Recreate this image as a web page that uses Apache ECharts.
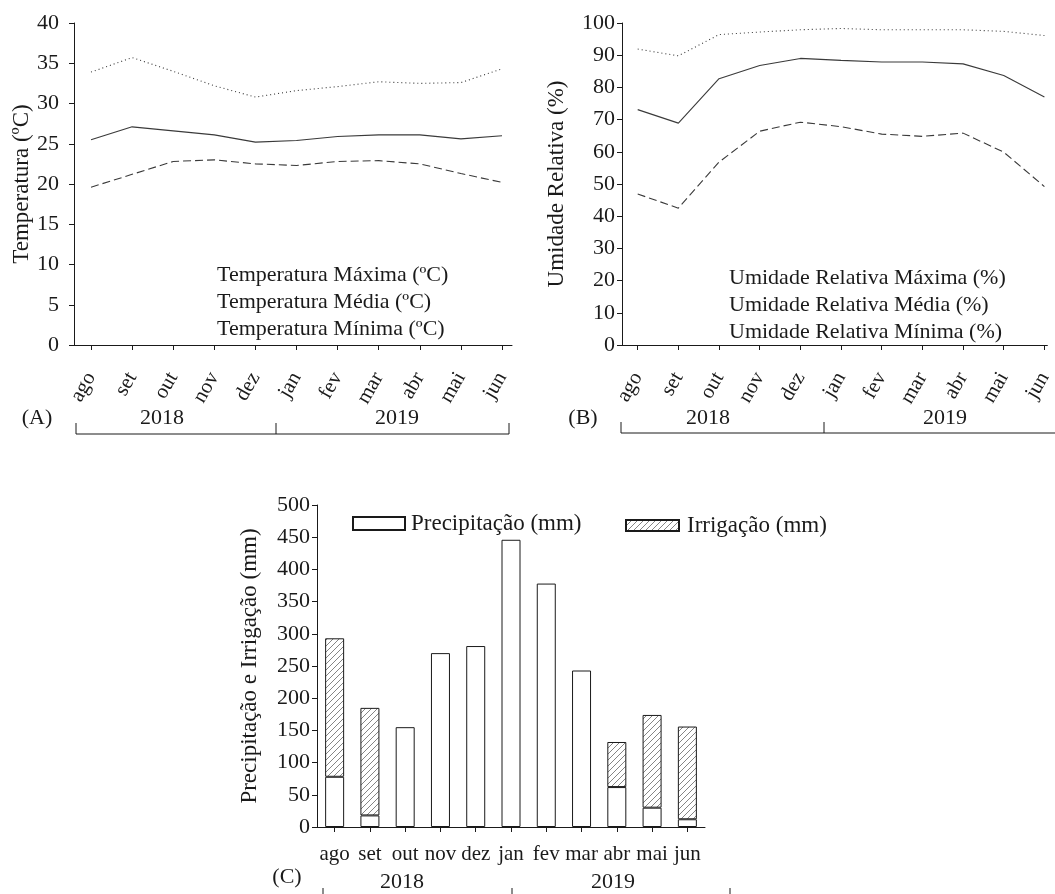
<!DOCTYPE html>
<html>
<head>
<meta charset="utf-8">
<script src="https://cdn.jsdelivr.net/npm/echarts@6/dist/echarts.min.js"></script>
<style>
  html, body { margin: 0; padding: 0; background: #fff; }
  #chart { width: 1055px; height: 894px; }
</style>
</head>
<body>
<div id="chart"></div>
<script>
// meses (ago/2018 a jun/2019)
const months = ['ago', 'set', 'out', 'nov', 'dez', 'jan', 'fev', 'mar', 'abr', 'mai', 'jun']

// (A) temperatura, ºC
const tempMax = [33.9, 35.7, 34.0, 32.2, 30.8, 31.6, 32.1, 32.7, 32.5, 32.6, 34.3]
const tempMed = [25.5, 27.1, 26.6, 26.1, 25.2, 25.4, 25.9, 26.1, 26.1, 25.6, 26.0]
const tempMin = [19.6, 21.2, 22.8, 23.0, 22.5, 22.3, 22.8, 22.9, 22.5, 21.3, 20.2]

// (B) umidade relativa, %
const urMax = [91.9, 89.8, 96.4, 97.2, 97.9, 98.3, 97.9, 97.9, 97.9, 97.4, 96.1]
const urMed = [73.1, 68.9, 82.7, 86.8, 89.0, 88.4, 87.9, 87.9, 87.3, 83.7, 77.0]
const urMin = [46.9, 42.5, 56.8, 66.4, 69.2, 67.8, 65.5, 64.8, 65.8, 59.9, 49.2]

// (C) precipitação e irrigação, mm
const precip = [78, 18, 155, 270, 281, 446, 378, 243, 62, 30, 12]
const irrig = [215, 167, '-', '-', '-', '-', '-', '-', 70, 144, 144]

const years = ['2018', '2019']

const FONT = '"Liberation Serif", "DejaVu Serif", serif'
const INK = '#1a1a1a'
const LINE = '#3a3a3a'

const chart = echarts.init(document.getElementById('chart'))

// hachura "/" para irrigação
const hatch = document.createElement('canvas')
hatch.width = 6
hatch.height = 6
const hctx = hatch.getContext('2d')
hctx.fillStyle = '#fff'
hctx.fillRect(0, 0, 6, 6)
hctx.strokeStyle = '#666'
hctx.lineWidth = 0.8
hctx.beginPath()
hctx.moveTo(-1, 7); hctx.lineTo(7, -1)
hctx.moveTo(-1, 1); hctx.lineTo(1, -1)
hctx.moveTo(5, 7); hctx.lineTo(7, 5)
hctx.stroke()

const pts = (arr) => arr.map((v, i) => [i, v])
const idx = months.map((m, i) => i)

const monthAxis = (grid, min, max, margin) => ({
  type: 'value',
  gridIndex: grid,
  min: min,
  max: max,
  splitLine: { show: false },
  axisLine: { show: true, onZero: false, lineStyle: { color: INK, width: 1 } },
  axisTick: { show: true, length: 5, lineStyle: { color: INK }, customValues: idx },
  axisLabel: {
    show: true,
    customValues: idx,
    rotate: 60,
    margin: margin,
    color: INK,
    fontFamily: FONT,
    fontSize: 21,
    formatter: (v) => months[Math.round(v)]
  }
})

const valueAxis = (grid, max, interval, name, nameGap, margin) => ({
  type: 'value',
  gridIndex: grid,
  min: 0,
  max: max,
  interval: interval,
  name: name,
  nameLocation: 'middle',
  nameGap: nameGap,
  nameTextStyle: { color: INK, fontFamily: FONT, fontSize: 23 },
  splitLine: { show: false },
  axisLine: { show: true, onZero: false, lineStyle: { color: INK, width: 1 } },
  axisTick: { show: true, length: 5, lineStyle: { color: INK } },
  axisLabel: { color: INK, fontFamily: FONT, fontSize: 22, margin: margin }
})

const lineSeries = (name, grid, data, type) => ({
  name: name,
  type: 'line',
  xAxisIndex: grid,
  yAxisIndex: grid,
  data: pts(data),
  symbol: 'none',
  smooth: false,
  lineStyle: { color: LINE, width: 1.1, type: type },
  itemStyle: { color: LINE }
})

const legendText = { color: INK, fontFamily: FONT, fontSize: 22 }

const txt = (x, y, text, size) => ({
  type: 'text',
  x: x,
  y: y,
  style: { text: text, fill: INK, font: (size || 22) + 'px ' + FONT, align: 'center', verticalAlign: 'middle' }
})
const seg = (x1, y1, x2, y2) => ({
  type: 'line',
  shape: { x1: x1, y1: y1, x2: x2, y2: y2 },
  style: { stroke: INK, lineWidth: 1 }
})

const option = {
  backgroundColor: '#fff',
  animation: false,
  grid: [
    { left: 74, top: 23, width: 438, height: 322 },
    { left: 622, top: 23, width: 433, height: 322 },
    { left: 317, top: 505, width: 388, height: 322 }
  ],
  xAxis: [
    monthAxis(0, -0.414, 10.243, 29),
    monthAxis(1, -0.386, 10.073, 29),
    {
      type: 'category',
      gridIndex: 2,
      data: months,
      boundaryGap: true,
      axisLine: { show: true, lineStyle: { color: INK, width: 1 } },
      axisTick: { show: true, alignWithLabel: true, length: 5, lineStyle: { color: INK } },
      axisLabel: { color: INK, fontFamily: FONT, fontSize: 21, margin: 17, interval: 0 }
    }
  ],
  yAxis: [
    valueAxis(0, 40, 5, 'Temperatura (ºC)', 40, 15),
    valueAxis(1, 100, 10, 'Umidade Relativa (%)', 54, 7),
    valueAxis(2, 500, 50, 'Precipitação e Irrigação (mm)', 56, 7)
  ],
  legend: [
    {
      orient: 'vertical',
      left: 206,
      top: 259,
      itemGap: 5,
      icon: 'none',
      itemWidth: 1,
      itemHeight: 10,
      textStyle: legendText,
      data: ['Temperatura Máxima (ºC)', 'Temperatura Média (ºC)', 'Temperatura Mínima (ºC)']
    },
    {
      orient: 'vertical',
      left: 718,
      top: 262,
      itemGap: 5,
      icon: 'none',
      itemWidth: 1,
      itemHeight: 10,
      textStyle: legendText,
      data: ['Umidade Relativa Máxima (%)', 'Umidade Relativa Média (%)', 'Umidade Relativa Mínima (%)']
    },
    {
      left: 347,
      top: 507,
      icon: 'rect',
      itemWidth: 52,
      itemHeight: 13,
      textStyle: Object.assign({ padding: [0, 0, 0, 1] }, legendText, { fontSize: 23 }),
      data: ['Precipitação (mm)']
    },
    {
      left: 620,
      top: 509,
      icon: 'rect',
      itemWidth: 53,
      itemHeight: 11,
      textStyle: Object.assign({ padding: [0, 0, 0, 3] }, legendText, { fontSize: 23 }),
      data: ['Irrigação (mm)']
    }
  ],
  series: [
    lineSeries('Temperatura Máxima (ºC)', 0, tempMax, [1, 3]),
    lineSeries('Temperatura Média (ºC)', 0, tempMed, 'solid'),
    lineSeries('Temperatura Mínima (ºC)', 0, tempMin, [8, 4]),
    lineSeries('Umidade Relativa Máxima (%)', 1, urMax, [1, 3]),
    lineSeries('Umidade Relativa Média (%)', 1, urMed, 'solid'),
    lineSeries('Umidade Relativa Mínima (%)', 1, urMin, [8, 4]),
    {
      name: 'Precipitação (mm)',
      type: 'bar',
      xAxisIndex: 2,
      yAxisIndex: 2,
      stack: 'agua',
      barWidth: 19,
      data: precip,
      itemStyle: { color: '#fff', borderColor: INK, borderWidth: 1 }
    },
    {
      name: 'Irrigação (mm)',
      type: 'bar',
      xAxisIndex: 2,
      yAxisIndex: 2,
      stack: 'agua',
      barWidth: 19,
      data: irrig,
      itemStyle: { color: { image: hatch, repeat: 'repeat' }, borderColor: INK, borderWidth: 1 }
    }
  ],
  graphic: [
    // (A)
    txt(37, 418, '(A)'),
    txt(162, 418, years[0]),
    txt(397, 418, years[1]),
    seg(76, 434, 509, 434),
    seg(76, 423, 76, 434),
    seg(276, 423, 276, 434),
    seg(509, 423, 509, 434),
    // (B)
    txt(583, 418, '(B)'),
    txt(708, 418, years[0]),
    txt(945, 418, years[1]),
    seg(621, 433, 1055, 433),
    seg(621, 422, 621, 433),
    seg(824, 422, 824, 433),
    // (C)
    txt(287, 877, '(C)'),
    txt(402, 882, years[0]),
    txt(613, 882, years[1]),
    seg(323, 888, 323, 894),
    seg(512, 888, 512, 894),
    seg(730, 888, 730, 894)
  ]
}

chart.setOption(option)
</script>
</body>
</html>
